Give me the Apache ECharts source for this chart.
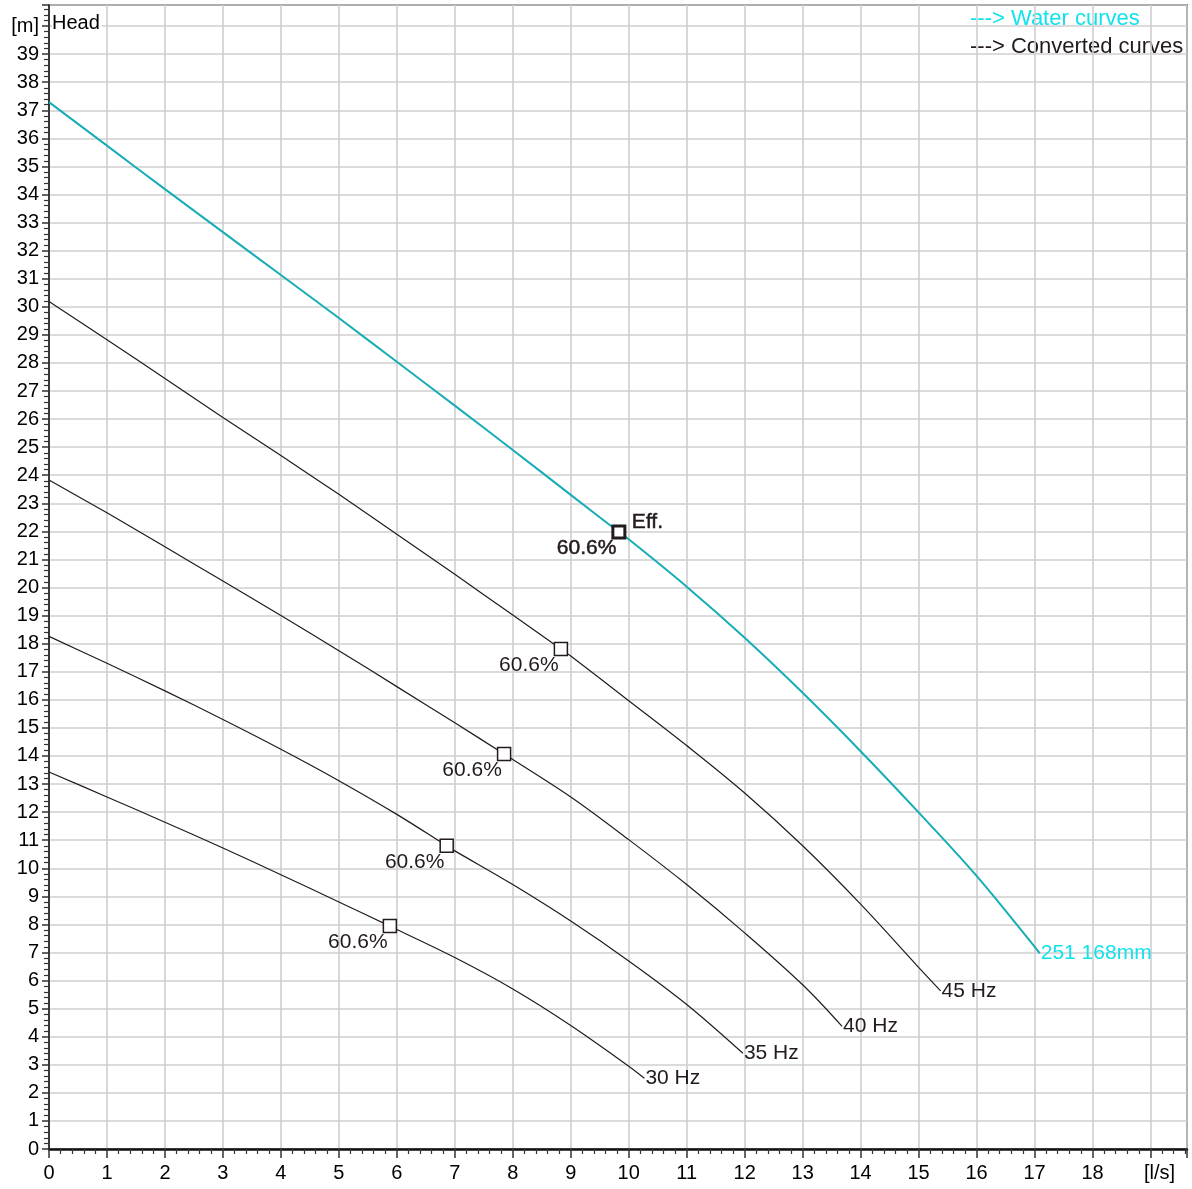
<!DOCTYPE html>
<html>
<head>
<meta charset="utf-8">
<script src="https://cdn.jsdelivr.net/npm/echarts@6/dist/echarts.min.js"></script>
<style>
html,body{margin:0;padding:0;background:#fff;}
#chart{width:1192px;height:1189px;}
</style>
</head>
<body>
<div id="chart"></div>
<script>
// Water curve (50 Hz, 251 168mm)
const waterQ = [0,1,2,3,4,5,6,7,8,9,9.83,10,11,12,13,14,15,16,17,17.09];
const waterH = [37.29,35.74,34.19,32.66,31.13,29.6,28.04,26.48,24.9,23.3,21.98,21.72,20.03,18.21,16.25,14.17,11.99,9.73,7.21,6.97];
// Converted curves
const hz45Q = [0,1,2,3,4,5,6,7,8,8.83,9,10,11,12,13,14,15,15.38];
const hz45H = [30.19,28.83,27.45,26.06,24.7,23.32,21.9,20.47,19.02,17.81,17.56,15.97,14.37,12.68,10.8,8.72,6.47,5.63];
const hz40Q = [0,1,2,3,4,5,6,7,7.85,9,10,11,12,13,13.68];
const hz40H = [23.83,22.66,21.45,20.23,19.0,17.75,16.47,15.18,14.07,12.54,11.02,9.42,7.7,5.85,4.37];
const hz35Q = [0,1,2,3,4,5,6,6.86,7,8,9,10,11,11.97];
const hz35H = [18.26,17.3,16.32,15.3,14.24,13.12,11.92,10.8,10.62,9.42,8.12,6.7,5.15,3.41];
const hz30Q = [0,1,2,3,4,5,5.88,6,7,8,9,10,10.27];
const hz30H = [13.43,12.54,11.64,10.72,9.77,8.8,7.94,7.82,6.82,5.7,4.4,2.95,2.52];
// Efficiency points (water, 45, 40, 35, 30 Hz)
const effQ = [9.83,8.83,7.85,6.86,5.88];
const effH = [21.98,17.81,14.07,10.8,7.94];
const effLabel = '60.6%';
const curveNames = ['251 168mm','45 Hz','40 Hz','35 Hz','30 Hz'];
const xUnit = '[l/s]';
const yUnit = '[m]';
const yTitle = 'Head';
const legendLines = ['---> Water curves','---> Converted curves'];

const FONT = '"Liberation Sans", Arial, sans-serif';
const CYAN_LINE = '#17adb6';
const CYAN_TEXT = '#12e2ec';
const DARK = '#231a1d';

const zip = (a,b) => a.map((v,i)=>[v,b[i]]);

function lineSeries(name, q, h, color, width, labelColor) {
  return {
    type: 'line', name: name, data: zip(q,h), symbol: 'none', smooth: 0.35,
    lineStyle: {color: color, width: width}, z: 3, silent: true,
    endLabel: {show: true, formatter: name, color: labelColor, fontFamily: FONT, fontSize: 21, distance: 1}
  };
}

const chart = echarts.init(document.getElementById('chart'), null, {renderer: 'canvas'});
const isInt = v => Math.abs(v - Math.round(v)) < 1e-6;

chart.setOption({
  animation: false,
  backgroundColor: '#fff',
  grid: {left: 49, right: 5, top: 5, bottom: 40, show: true, borderColor: '#111', borderWidth: 1.5, backgroundColor: 'transparent'},
  xAxis: {
    type: 'value', min: 0, max: 19.63, interval: 1,
    axisLine: {show: true, lineStyle: {color: '#111', width: 2.5}},
    axisTick: {show: true, inside: false, length: 9, lineStyle: {color: '#333', width: 1.5}},
    minorTick: {show: true, splitNumber: 5, length: 5, lineStyle: {color: '#333', width: 1.2}},
    splitLine: {show: true, lineStyle: {color: '#cfcfcf', width: 1.6}},
    axisLabel: {
      fontFamily: FONT, fontSize: 20, color: '#000', margin: 14, showMaxLabel: false,
      formatter: v => !isInt(v) ? '' : (Math.round(v) === 19 ? '{u|' + xUnit + '}' : String(Math.round(v))),
      rich: {u: {fontFamily: FONT, fontSize: 20, color: '#000', padding: [0,0,0,18]}}
    }
  },
  yAxis: {
    type: 'value', min: 0, max: 40.75, interval: 1,
    axisLine: {show: true, lineStyle: {color: '#111', width: 1.5}},
    axisTick: {show: true, inside: false, length: 7, lineStyle: {color: '#333', width: 1.5}},
    minorTick: {show: true, splitNumber: 5, length: 5, lineStyle: {color: '#333', width: 1.2}},
    splitLine: {show: true, lineStyle: {color: '#cfcfcf', width: 1.6}},
    axisLabel: {
      fontFamily: FONT, fontSize: 20, color: '#000', margin: 10, showMaxLabel: false,
      formatter: v => !isInt(v) ? '' : (Math.round(v) === 40 ? yUnit : String(Math.round(v)))
    }
  },
  graphic: [
    {type: 'text', left: 52, top: 12, z: 10, style: {text: yTitle, font: '20px ' + FONT, fill: '#000', backgroundColor: '#fff', padding: [1,2,1,0]}},
    {type: 'text', left: 970, top: 8, style: {text: legendLines[0], font: '22px ' + FONT, fill: CYAN_TEXT}},
    {type: 'text', left: 970, top: 36, style: {text: legendLines[1], font: '22px ' + FONT, fill: DARK}}
  ],
  series: [
    lineSeries(curveNames[0], waterQ, waterH, CYAN_LINE, 2, CYAN_TEXT),
    lineSeries(curveNames[1], hz45Q, hz45H, DARK, 1.2, DARK),
    lineSeries(curveNames[2], hz40Q, hz40H, DARK, 1.2, DARK),
    lineSeries(curveNames[3], hz35Q, hz35H, DARK, 1.2, DARK),
    lineSeries(curveNames[4], hz30Q, hz30H, DARK, 1.2, DARK),
    {
      type: 'scatter', name: 'eff', z: 5, silent: true,
      data: zip(effQ.slice(1), effH.slice(1)),
      symbol: 'rect', symbolSize: 13,
      itemStyle: {color: '#fff', borderColor: DARK, borderWidth: 1.5, opacity: 1},
      label: {show: true, formatter: effLabel, position: [5, 13], align: 'right', verticalAlign: 'top',
              fontFamily: FONT, fontSize: 21, color: DARK}
    },
    {
      type: 'scatter', name: 'effMain', z: 6, silent: true,
      data: [[effQ[0], effH[0]]],
      symbol: 'rect', symbolSize: 12,
      itemStyle: {color: '#fff', borderColor: DARK, borderWidth: 3, opacity: 1},
      label: {show: true, formatter: effLabel, position: [5, 13], align: 'right', verticalAlign: 'top',
              fontFamily: FONT, fontSize: 21, color: DARK, textBorderColor: DARK, textBorderWidth: 0.5}
    },
    {
      type: 'scatter', name: 'effTag', z: 6, silent: true,
      data: [[effQ[0], effH[0]]],
      symbol: 'rect', symbolSize: 12,
      itemStyle: {color: 'rgba(0,0,0,0)', borderColor: 'rgba(0,0,0,0)', borderWidth: 0, opacity: 1},
      label: {show: true, formatter: 'Eff.', position: [19, -4], align: 'left', verticalAlign: 'middle',
              fontFamily: FONT, fontSize: 21, color: DARK, textBorderColor: DARK, textBorderWidth: 0.5}
    }
  ]
});
</script>
</body>
</html>
